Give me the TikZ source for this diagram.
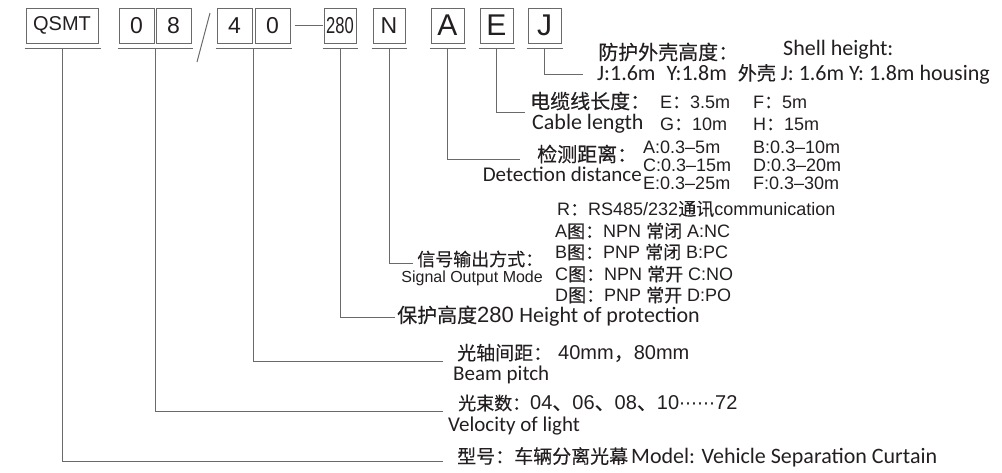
\documentclass[tikz,border=0pt]{standalone}
\usepackage{fontspec}
\usepackage{graphicx}
\setmainfont{Liberation Sans}
\newfontfamily\cjk[FakeBold=0.3]{Noto Sans CJK SC}
\newfontfamily\hum{Carlito}
\newfontfamily\sym{DejaVu Sans}
\usetikzlibrary{positioning,calc}
\definecolor{ink}{HTML}{231F20}
\definecolor{rule}{HTML}{6A6A6A}
\newcommand{\setfs}[1]{\fontsize{#1}{#1}\selectfont}
\newcommand{\zh}[1]{{\cjk #1}}

\begin{document}
\begin{tikzpicture}[x=1pt,y=-1pt,
  lead/.style={draw=rule, line width=1pt},
  cell/.style={draw=rule, line width=1pt, minimum width=35pt, minimum height=35pt,
               inner sep=0pt, text=ink, font=\setfs{23}},
  letter/.style={cell, minimum width=33pt, font=\setfs{30}},
  lbl/.style={inner sep=0pt, anchor=west, text=ink},
]
\useasboundingbox (0,0) rectangle (1002,472);

% code boxes
\node[cell, minimum width=72pt, font=\setfs{20}] (qsmt) at (62,25.5) {QSMT};
\node[cell, right=20pt of qsmt] (n0) {0};
\node[cell, right=1pt of n0] (n8) {8};
\node[cell, right=25pt of n8] (p4) {4};
\node[cell, right=2pt of p4] (p0) {0};
\node[cell, minimum width=32pt, right=33pt of p0] (h280) {\scalebox{.72}[1]{280}};
\node[cell, minimum width=32pt, right=16pt of h280] (sn) {N};
\node[letter, right=25pt of sn] (da) {A};
\node[letter, right=15pt of da] (ce) {E};
\node[letter, right=14pt of ce] (sj) {J};

\draw[lead] (210,13) -- (197,62);
\draw[lead, shorten <=4pt, shorten >=1pt] (p0) -- (h280);

% underlines
\draw[lead] ([shift={(-1,5)}]qsmt.south west) -- ([shift={(2,5)}]qsmt.south east);
\draw[lead] ([shift={(-1,5)}]n0.south west) -- ([shift={(1,5)}]n8.south east);
\draw[lead] ([shift={(-1,5)}]p4.south west) -- ([shift={(1,5)}]p0.south east);
\foreach \b in {h280,sn,da,ce,sj}
  \draw[lead] ([shift={(-1,5)}]\b.south west) -- ([shift={(1,5)}]\b.south east);

\coordinate (qsmt-u) at ($(qsmt.south)+(0,5)$);
\coordinate (num-u) at ($(n0.south east)!.5!(n8.south west)+(0,5)$);
\coordinate (pitch-u) at ($(p4.south east)!.5!(p0.south west)+(0,5)$);
\coordinate (h280-u) at ($(h280.south)+(0,5)$);
\coordinate (sn-u) at ($(sn.south)+(0,5)$);
\coordinate (da-u) at ($(da.south)+(0,5)$);
\coordinate (ce-u) at ($(ce.south)+(0,5)$);
\coordinate (sj-u) at ($(sj.south)+(0,5)$);

% shell height
\node[lbl, font=\setfs{20}] (shell) at (598,52) {\zh{防护外壳高度：}};
\node[lbl, font=\setfs{22}\hum] (shellen) at (783,50) {Shell height:};
\node[lbl, font=\setfs{22}\hum] (shell2) at (597,74)
  {J:1.6m\enspace Y:1.8m\enspace \zh{\setfs{19}外壳} J: 1.6m Y: 1.8m housing};

% cable length
\node[lbl, font=\setfs{20}] (cable) at (530,101) {\zh{电缆线长度：}};
\node[lbl, font=\setfs{18}] (cable1) at (660,102) {\makebox[93pt][l]{E\zh{：}3.5m}F\zh{：}5m};
\node[lbl, font=\setfs{22}\hum] (cableen) at (532,124) {Cable length};
\node[lbl, font=\setfs{18}] (cable2) at (660,124) {\makebox[93pt][l]{G\zh{：}10m}H\zh{：}15m};

% detection distance
\node[lbl, font=\setfs{20}] (dist) at (537,154) {\zh{检测距离：}};
\node[inner sep=0pt, anchor=east, text=ink, font=\setfs{21}\hum] (disten) at (642,174) {Detection distance};
\node[lbl, font=\setfs{18}] (dist1) at (643,147) {\makebox[110pt][l]{A:0.3–5m}B:0.3–10m};
\node[lbl, font=\setfs{18}] (dist2) at (643,165) {\makebox[110pt][l]{C:0.3–15m}D:0.3–20m};
\node[lbl, font=\setfs{18}] (dist3) at (643,183) {\makebox[110pt][l]{E:0.3–25m}F:0.3–30m};

% signal output
\node[lbl, font=\setfs{18}] (sig) at (417,259) {\zh{信号输出方式：}};
\node[inner sep=0pt, anchor=east, text=ink, font=\setfs{16}] (sigen) at (543,278) {Signal Output Mode};
\node[lbl, font=\setfs{18}] (optr) at (557,209) {R\zh{：}RS485/232\zh{通讯}communication};
\node[lbl, font=\setfs{18}] (opta) at (555,231) {A\zh{图：}NPN \zh{常闭} A:NC};
\node[lbl, font=\setfs{18}] (optb) at (555,252) {B\zh{图：}PNP \zh{常闭} B:PC};
\node[lbl, font=\setfs{18}] (optc) at (555,274) {C\zh{图：}NPN \zh{常开} C:NO};
\node[lbl, font=\setfs{18}] (optd) at (555,295) {D\zh{图：}PNP \zh{常开} D:PO};

% protection, pitch, beams, model
\node[lbl, font=\setfs{20}] (prot) at (397,316)
  {\zh{保护高度}{\setfs{22}280} {\hum\setfs{22}Height of protection}};
\node[lbl, font=\setfs{20}] (pitch) at (457,353) {\zh{\setfs{19}光轴间距：}\hspace{6pt}40mm\zh{，}80mm};
\node[lbl, font=\setfs{21}\hum] (pitchen) at (453,375) {Beam pitch};
\node[lbl, font=\setfs{20}] (count) at (458,403)
  {\zh{\setfs{18}光束数：}04\zh{、}06\zh{、}08\zh{、}10{\sym\setfs{18}⋯⋯}72};
\node[lbl, font=\setfs{21}\hum] (counten) at (448,426) {Velocity of light};
\node[lbl, font=\setfs{19}] (model) at (457,457)
  {\zh{型号：车辆分离光幕}\hspace{3pt}{\hum\setfs{22}Model: Vehicle Separation Curtain}};

% leaders
\draw[lead] (sj-u) |- ([shift={(-14,0)}]shell2.west);
\draw[lead] (ce-u) |- ([shift={(-5,11)}]cable.west);
\draw[lead] (da-u) |- ([shift={(-17,5)}]dist.west);
\draw[lead] (sn-u) |- ([shift={(-4,4)}]sig.west);
\draw[lead] (h280-u) |- ([shift={(-2,1)}]prot.west);
\draw[lead] (pitch-u) |- ([shift={(-14,8)}]pitch.west);
\draw[lead] (num-u) |- ([shift={(-15,8)}]count.west);
\draw[lead] (qsmt-u) |- ([shift={(-14,4)}]model.west);
\end{tikzpicture}
\end{document}
